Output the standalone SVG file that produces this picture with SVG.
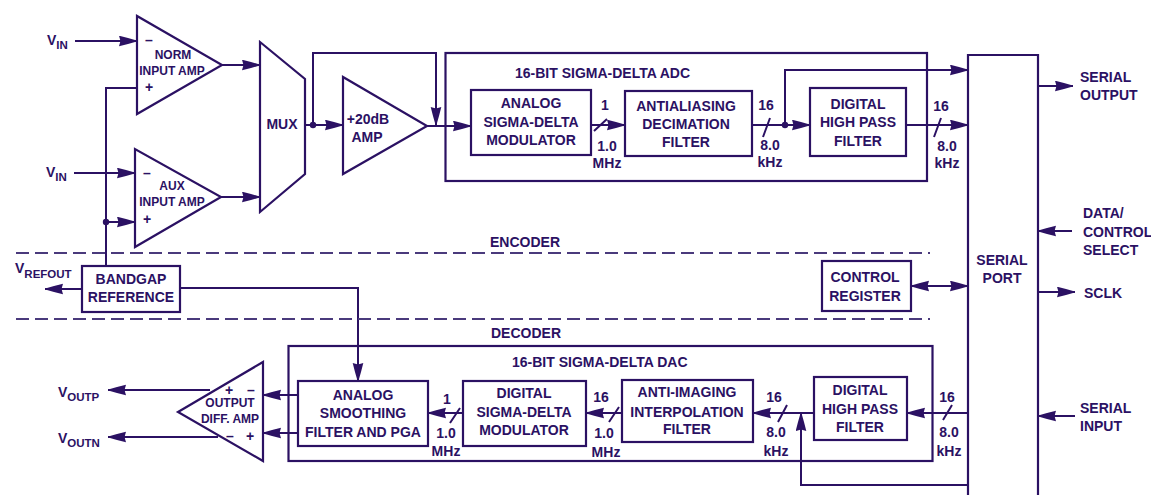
<svg xmlns="http://www.w3.org/2000/svg" width="1151" height="495" viewBox="0 0 1151 495">
<defs>
<marker id="a" markerUnits="userSpaceOnUse" markerWidth="20" markerHeight="12" refX="18" refY="5.500" orient="auto-start-reverse"><path d="M0 0.200L9 2.500L16 4.500L16 6.500L9 8.500L0 10.800L1.500 5.500Z" fill="#2b1163"/></marker>
</defs>
<style>
.s{fill:#fff;stroke:#2b1163;stroke-width:2.2;stroke-linejoin:miter}
.n{fill:none;stroke:#2b1163;stroke-width:2.2}
.w{fill:none;stroke:#2b1163;stroke-width:2}
.d{fill:none;stroke:#4a3a7c;stroke-width:1.8;stroke-dasharray:13 6}
.t{font-family:"Liberation Sans",Arial,sans-serif;font-weight:700;fill:#2b1163;font-size:14px;text-anchor:middle}
.l{text-anchor:start}
.m{font-size:12px}
.sub{font-size:11.500px}
.j{fill:#2b1163}
</style>
<rect width="1151" height="495" fill="#fff"/>
<g id="connectors">
<path class="w" d="M75 41H137" marker-end="url(#a)"/>
<path class="w" d="M222 65H260" marker-end="url(#a)"/>
<path class="w" d="M137 88H106V266"/>
<path class="w" d="M74 173H135" marker-end="url(#a)"/>
<path class="w" d="M106 222H135" marker-end="url(#a)"/>
<path class="w" d="M221 197H260" marker-end="url(#a)"/>
<path class="w" d="M305 125H343" marker-end="url(#a)"/>
<path class="w" d="M313 125V53H436V125" marker-end="url(#a)"/>
<path class="w" d="M427 126H471" marker-end="url(#a)"/>
<path class="w" d="M591 125H625" marker-end="url(#a)"/>
<path class="w" d="M752 125H810" marker-end="url(#a)"/>
<path class="w" d="M785 125V70H968" marker-end="url(#a)"/>
<path class="w" d="M906 125H968" marker-end="url(#a)"/>
<path class="w" d="M1038 86H1073" marker-end="url(#a)"/>
<path class="w" d="M1072 231H1038" marker-end="url(#a)"/>
<path class="w" d="M1038 292H1075" marker-end="url(#a)"/>
<path class="w" d="M1075 416H1038" marker-end="url(#a)"/>
<path class="w" d="M911 286H968" marker-start="url(#a)" marker-end="url(#a)"/>
<path class="w" d="M82 289H45" marker-end="url(#a)"/>
<path class="w" d="M180 288H358V381" marker-end="url(#a)"/>
<path class="w" d="M298 395H263" marker-end="url(#a)"/>
<path class="w" d="M298 433H263" marker-end="url(#a)"/>
<path class="w" d="M210 390H108" marker-end="url(#a)"/>
<path class="w" d="M218 437H108" marker-end="url(#a)"/>
<path class="w" d="M463 413H428" marker-end="url(#a)"/>
<path class="w" d="M622 413H586" marker-end="url(#a)"/>
<path class="w" d="M814 413H753" marker-end="url(#a)"/>
<path class="w" d="M968 413H907" marker-end="url(#a)"/>
<path class="w" d="M968 485H801V413" marker-end="url(#a)"/>
<path class="w" d="M594 131L607 119M763 137L770 118M934 137L941 118M450 423L460 408M609 422L619 407M778 422L787 405M943 420L952 405"/>
<circle class="j" cx="106" cy="222" r="3.200"/><circle class="j" cx="313" cy="125" r="3.200"/><circle class="j" cx="785" cy="125" r="3.200"/>
</g>
<path class="d" d="M16 253H930M16 319H930"/>
<g id="adc-frame"><rect class="n" x="445.500" y="53" width="481.500" height="128"/><text class="t l" x="515" y="78">16-BIT SIGMA-DELTA ADC</text></g>
<g id="dac-frame"><rect class="n" x="288.500" y="346" width="644" height="115"/><text class="t l" x="512" y="367">16-BIT SIGMA-DELTA DAC</text></g>
<g id="norm-amp"><path class="s" d="M137 16V114L222 65Z"/><text class="t m" x="173" y="59">NORM</text><text class="t m" x="172" y="75">INPUT AMP</text><text class="t" x="149" y="45">–</text><text class="t" x="149" y="92">+</text></g>
<g id="aux-amp"><path class="s" d="M135 149V247L221 197Z"/><text class="t m" x="172" y="190">AUX</text><text class="t m" x="172" y="206">INPUT AMP</text><text class="t" x="147" y="178">–</text><text class="t" x="147" y="224">+</text></g>
<g id="mux"><path class="s" d="M260 42L305 79V174L260 212Z"/><text class="t" x="282" y="129">MUX</text></g>
<g id="gain-amp"><path class="s" d="M343 77V174L427 126Z"/><text class="t" x="368" y="124">+20dB</text><text class="t" x="367" y="142">AMP</text></g>
<g id="modulator"><rect class="s" x="471" y="90" width="120" height="65"/><text class="t" x="531" y="108">ANALOG</text><text class="t" x="531" y="127">SIGMA-DELTA</text><text class="t" x="531" y="145">MODULATOR</text></g>
<g id="decimation"><rect class="s" x="625" y="91" width="127" height="65"/><text class="t" x="686" y="111">ANTIALIASING</text><text class="t" x="686" y="129">DECIMATION</text><text class="t" x="686" y="147">FILTER</text></g>
<g id="adc-hpf"><rect class="s" x="810" y="88" width="96" height="68"/><text class="t" x="858" y="109">DIGITAL</text><text class="t" x="858" y="127">HIGH PASS</text><text class="t" x="858" y="146">FILTER</text></g>
<g id="serial-port"><path class="s" d="M968 495V55H1038V495"/><text class="t" x="1002" y="265">SERIAL</text><text class="t" x="1002" y="283">PORT</text></g>
<g id="control-register"><rect class="s" x="822" y="261" width="89" height="50"/><text class="t" x="865" y="282">CONTROL</text><text class="t" x="865" y="301">REGISTER</text></g>
<g id="bandgap"><rect class="s" x="82" y="266" width="98" height="46"/><text class="t" x="131" y="284">BANDGAP</text><text class="t" x="131" y="302">REFERENCE</text></g>
<g id="output-amp"><path class="s" d="M178 412L263 362V461Z"/><text class="t m" x="230" y="407">OUTPUT</text><text class="t m" x="230" y="423">DIFF. AMP</text><text class="t" x="229" y="395">+</text><text class="t" x="251" y="395">–</text><text class="t" x="230" y="441">–</text><text class="t" x="250" y="441">+</text></g>
<g id="smoothing"><rect class="s" x="298" y="381" width="130" height="65"/><text class="t" x="363" y="400">ANALOG</text><text class="t" x="363" y="418">SMOOTHING</text><text class="t" x="363" y="437">FILTER AND PGA</text></g>
<g id="dac-modulator"><rect class="s" x="463" y="381" width="123" height="65"/><text class="t" x="524" y="398">DIGITAL</text><text class="t" x="524" y="417">SIGMA-DELTA</text><text class="t" x="524" y="435">MODULATOR</text></g>
<g id="interpolation"><rect class="s" x="622" y="380" width="131" height="62"/><text class="t" x="687" y="397">ANTI-IMAGING</text><text class="t" x="687" y="417">INTERPOLATION</text><text class="t" x="687" y="434">FILTER</text></g>
<g id="dac-hpf"><rect class="s" x="814" y="377" width="93" height="63"/><text class="t" x="860" y="395">DIGITAL</text><text class="t" x="860" y="414">HIGH PASS</text><text class="t" x="860" y="432">FILTER</text></g>
<g id="labels">
<text class="t l" x="47" y="45">V<tspan class="sub" dy="4">IN</tspan></text>
<text class="t l" x="46" y="177">V<tspan class="sub" dy="4">IN</tspan></text>
<text class="t l" x="15" y="273">V<tspan class="sub" dy="5">REFOUT</tspan></text>
<text class="t l" x="58" y="397">V<tspan class="sub" dy="4">OUTP</tspan></text>
<text class="t l" x="58" y="443">V<tspan class="sub" dy="4">OUTN</tspan></text>
<text class="t" x="525" y="247">ENCODER</text>
<text class="t" x="526" y="338">DECODER</text>
<text class="t l" x="1080" y="82">SERIAL</text><text class="t l" x="1080" y="100">OUTPUT</text>
<text class="t l" x="1083" y="218">DATA/</text><text class="t l" x="1083" y="237">CONTROL</text><text class="t l" x="1083" y="255">SELECT</text>
<text class="t l" x="1084" y="298">SCLK</text>
<text class="t l" x="1080" y="413">SERIAL</text><text class="t l" x="1080" y="431">INPUT</text>
<text class="t" x="605" y="110">1</text><text class="t" x="607" y="151">1.0</text><text class="t" x="607" y="168">MHz</text>
<text class="t" x="766" y="110">16</text><text class="t" x="770" y="150">8.0</text><text class="t" x="770" y="167">kHz</text>
<text class="t" x="941" y="111">16</text><text class="t" x="947" y="151">8.0</text><text class="t" x="947" y="168">kHz</text>
<text class="t" x="447" y="404">1</text><text class="t" x="446" y="438">1.0</text><text class="t" x="446" y="456">MHz</text>
<text class="t" x="601" y="402">16</text><text class="t" x="604" y="438">1.0</text><text class="t" x="606" y="457">MHz</text>
<text class="t" x="774" y="402">16</text><text class="t" x="776" y="437">8.0</text><text class="t" x="776" y="456">kHz</text>
<text class="t" x="947" y="402">16</text><text class="t" x="949" y="437">8.0</text><text class="t" x="949" y="456">kHz</text>
</g>
</svg>
